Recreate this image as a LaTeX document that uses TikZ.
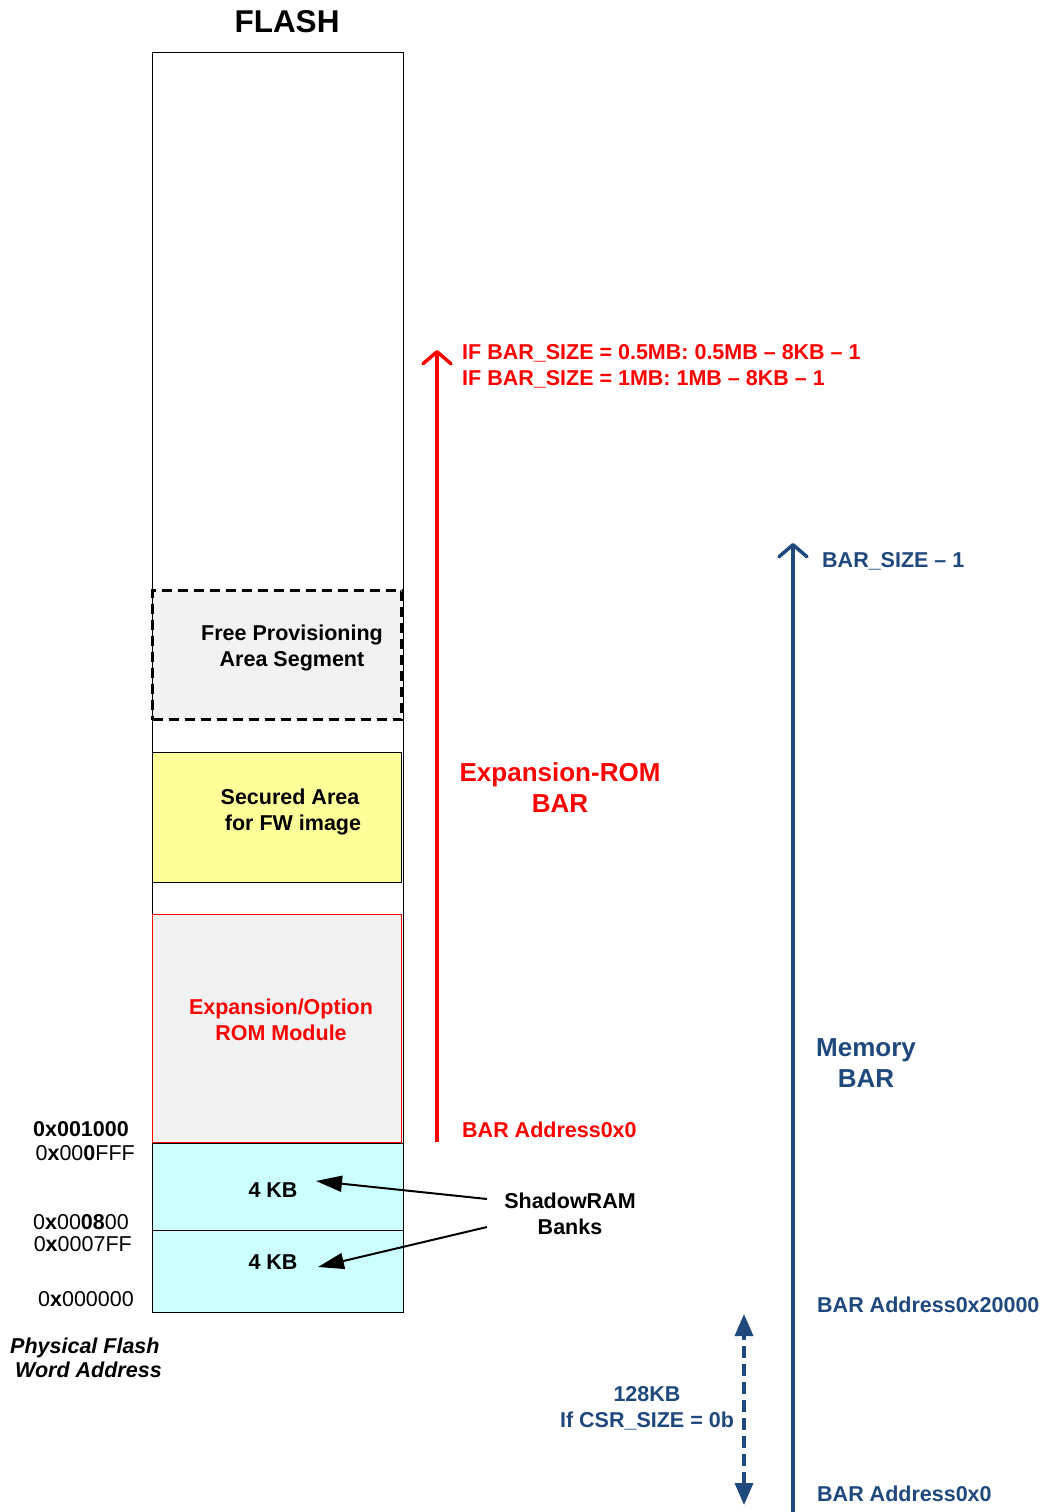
\documentclass[tikz,border=0pt]{standalone}
\usepackage{fontspec}
\setmainfont{Liberation Sans}
\usetikzlibrary{arrows.meta}
\definecolor{rred}{HTML}{FF0000}
\definecolor{bblue}{HTML}{1F497D}
\definecolor{cyanfill}{HTML}{CCFFFF}
\definecolor{yellowfill}{HTML}{FFFF99}
\definecolor{grayfill}{HTML}{F2F2F2}
\begin{document}
\begin{tikzpicture}[x=1pt,y=-1pt,
  lbl/.style={font=\fontsize{21.5}{26}\selectfont\bfseries, inner sep=0pt},
  reglbl/.style={font=\fontsize{21.5}{26}\selectfont, inner sep=0pt},
  biglbl/.style={font=\fontsize{26}{31}\selectfont\bfseries, inner sep=0pt, align=center},
  region/.style={draw, line width=0.8pt, inner sep=0pt},
  freebox/.style={draw, fill=grayfill, line width=3.6pt, dash pattern=on 10pt off 6pt, inner sep=0pt},
  bigarrow/.style={line width=4pt, -{Straight Barb[length=12pt,width=28pt,line width=3.5pt,round]}},
  dblarrow/.style={bblue, line width=3.5pt, dash pattern=on 12pt off 6pt, {Triangle[length=22pt,width=18pt]}-{Triangle[length=22pt,width=18pt]}},
  ptr/.style={line width=2pt, -{Triangle[length=26pt,width=16pt]}}
]
\useasboundingbox (0,0) rectangle (1046,1512);

% Flash column
\node[region, minimum width=251pt, minimum height=1260pt] (flash) at (277.5,682) {};
\node[freebox, minimum width=249pt, minimum height=129pt] (free) at (277,655) {};
\node[region, fill=yellowfill, line width=0.6pt, minimum width=249pt, minimum height=130pt] (secured) at (276.5,817) {};
\node[region, draw=rred, fill=grayfill, line width=0.8pt, minimum width=249pt, minimum height=228pt] (exprom) at (276.5,1028) {};
\node[region, fill=cyanfill, minimum width=251pt, minimum height=87pt] (bank1) at (277.5,1186.5) {};
\node[region, fill=cyanfill, minimum width=251pt, minimum height=82pt] (bank0) at (277.5,1271) {};

% Title
\node[font=\fontsize{31.5}{36}\selectfont\bfseries, inner sep=0pt] (title) at (287,22) {FLASH};

% Texts inside regions
\node[lbl, align=center] (freetxt) at (292,648) {Free Provisioning\\Area Segment};
\node[lbl, align=center] (sectxt) at (290,812) {Secured Area\\\ for FW image};
\node[lbl, align=center, text=rred] (exptxt) at (281,1020) {Expansion/Option\\ROM Module};
\node[lbl] (kb1) at (273,1190) {4 KB};
\node[lbl] (kb0) at (273,1262) {4 KB};

% Shadow RAM label and pointers
\node[lbl, align=center] (shadow) at (570,1214) {ShadowRAM\\Banks};
\coordinate (sh1) at (487,1199);
\coordinate (sh0) at (487,1227);
\coordinate (tip1) at (316,1181);
\coordinate (tip0) at (318,1267);
\draw[ptr] (sh1) -- (tip1);
\draw[ptr] (sh0) -- (tip0);

% Addresses at left
\node[lbl, anchor=base east] (a1000) at (129,1136.5) {0x001000};
\node[reglbl, anchor=base east] (a0fff) at (135,1160.5) {0\textbf{x}00\textbf{0}FFF};
\node[reglbl, anchor=base east] (a0800) at (129,1229.5) {0\textbf{x}00\textbf{08}00};
\node[reglbl, anchor=base east] (a07ff) at (132,1251.5) {0\textbf{x}0007FF};
\node[reglbl, anchor=base east] (a0000) at (134,1306.5) {0\textbf{x}000000};
\node[lbl, font=\fontsize{21.5}{24}\selectfont\bfseries\itshape, anchor=north west, align=left] (phys) at (10,1338) {Physical Flash\\\hspace{5pt}Word Address};

% Expansion ROM BAR arrow (red)
\coordinate (redbot) at (437,1142);
\coordinate (redtop) at (437,350);
\draw[bigarrow, rred] (redbot) -- (redtop);
\node[lbl, text=rred, anchor=base west] (if1) at (462,359.5) {IF BAR\_SIZE = 0.5MB: 0.5MB – 8KB – 1};
\node[lbl, text=rred, anchor=base west] (if2) at (462,385.5) {IF BAR\_SIZE = 1MB: 1MB – 8KB – 1};
\node[biglbl, text=rred] (expbar) at (560,788) {Expansion-ROM\\BAR};
\node[lbl, text=rred, anchor=base west] (redaddr) at (462,1137.5) {BAR Address0x0};

% Memory BAR arrow (blue)
\coordinate (bluebot) at (793,1512);
\coordinate (bluetop) at (793,543);
\draw[bigarrow, bblue] (bluebot) -- (bluetop);
\node[lbl, text=bblue, anchor=base west] (barsize) at (822,567.5) {BAR\_SIZE – 1};
\node[biglbl, text=bblue] (membar) at (866,1063) {Memory\\BAR};
\node[lbl, text=bblue, anchor=base west] (addr2) at (817,1312.5) {BAR Address0x20000};
\node[lbl, text=bblue, anchor=base west] (addr0) at (817,1501.5) {BAR Address0x0};

% 128KB dashed double arrow
\coordinate (dtop) at (744,1314);
\coordinate (dbot) at (744,1505);
\draw[dblarrow] (dbot) -- (dtop);
\node[lbl, text=bblue, align=center] (csr) at (647,1408) {128KB\\If CSR\_SIZE = 0b};
\end{tikzpicture}
\end{document}
